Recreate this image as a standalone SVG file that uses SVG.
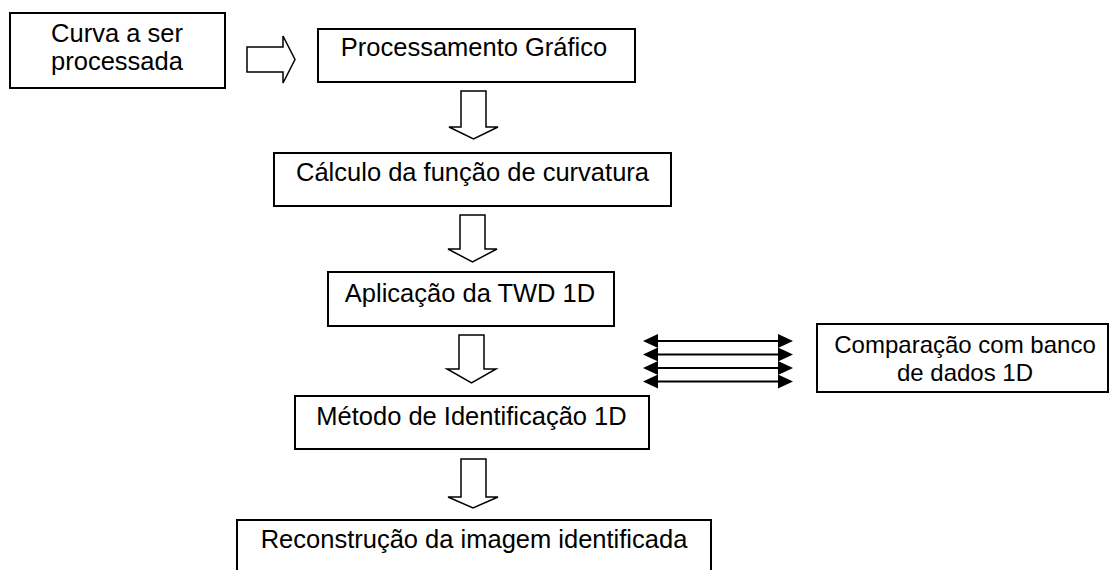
<svg xmlns="http://www.w3.org/2000/svg" width="1115" height="570" viewBox="0 0 1115 570">
<style>
.box{fill:#fff;stroke:#000;stroke-width:2}
.blk{fill:#fff;stroke:#000;stroke-width:1.5;stroke-linejoin:miter}
.t{font-family:"Liberation Sans",Arial,sans-serif;font-size:25.5px;fill:#000;text-anchor:middle}
.s{font-size:24px}
.ln{stroke:#000;stroke-width:2;fill:none}
</style>
<defs>
<marker id="ah" viewBox="0 0 15 14" refX="0" refY="7" markerWidth="15" markerHeight="14" markerUnits="userSpaceOnUse" orient="auto-start-reverse">
<path d="M0,0 L15,7 L0,14 Z" fill="#000"/>
</marker>
</defs>
<rect width="1115" height="570" fill="#fff"/>
<g id="connectors">
<polygon class="blk" points="247,47 283,47 283,36 295,59.5 283,83 283,72 247,72"/>
<polygon class="blk" points="461,91 486,91 486,127 498,127 473.5,139 449,127 461,127"/>
<polygon class="blk" points="460,215 485,215 485,249 497,249 472.5,262 448,249 460,249"/>
<polygon class="blk" points="459,335 484,335 484,369 496,369 471.5,383 447,369 459,369"/>
<polygon class="blk" points="461,459 486,459 486,497 498,497 473,508 448,497 461,497"/>
<g id="multi">
<line class="ln" x1="658" y1="341" x2="778" y2="341" marker-start="url(#ah)" marker-end="url(#ah)"/>
<line class="ln" x1="658" y1="354.5" x2="778" y2="354.5" marker-start="url(#ah)" marker-end="url(#ah)"/>
<line class="ln" x1="658" y1="368" x2="778" y2="368" marker-start="url(#ah)" marker-end="url(#ah)"/>
<line class="ln" x1="658" y1="381.5" x2="778" y2="381.5" marker-start="url(#ah)" marker-end="url(#ah)"/>
</g>
</g>
<g id="n1"><rect class="box" x="10" y="13" width="215" height="75"/>
<text class="t" x="117" y="42">Curva a ser</text><text class="t" x="117" y="70">processada</text></g>
<g id="n2"><rect class="box" x="318" y="29" width="317" height="53"/>
<text class="t" x="474" y="56">Processamento Gráfico</text></g>
<g id="n3"><rect class="box" x="274" y="153" width="397" height="53"/>
<text class="t" x="472.5" y="181">Cálculo da função de curvatura</text></g>
<g id="n4"><rect class="box" x="328" y="272" width="286" height="54"/>
<text class="t" x="470" y="302">Aplicação da TWD 1D</text></g>
<g id="n5"><rect class="box" x="295" y="396" width="354" height="53"/>
<text class="t" x="471.5" y="425">Método de Identificação 1D</text></g>
<g id="n6"><rect class="box" x="237" y="520" width="474" height="70"/>
<text class="t" x="474" y="548">Reconstrução da imagem identificada</text></g>
<g id="n7"><rect class="box" x="817" y="324" width="291" height="68"/>
<text class="t s" x="965" y="353">Comparação com banco</text><text class="t s" x="965" y="381">de dados 1D</text></g>
</svg>
